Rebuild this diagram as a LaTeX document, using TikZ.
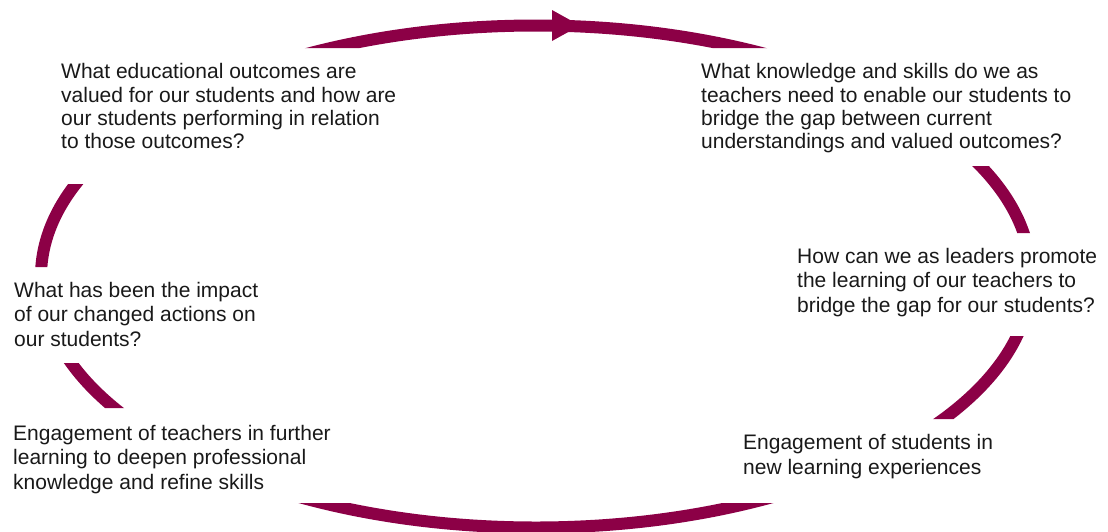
\documentclass[tikz,border=0pt]{standalone}
\usepackage{fontspec}
\setmainfont{Liberation Sans}
\definecolor{cyclered}{RGB}{140,0,70}
\begin{document}
\begin{tikzpicture}[x=1pt,y=-1pt,
  question/.style={anchor=north west, inner sep=0pt, align=left,
    font=\fontsize{21}{23.3}\selectfont, text=black!90},
  loose/.style={font=\fontsize{21}{24.3}\selectfont}]
\useasboundingbox (0,0) rectangle (1108,531);
% cycle ring, cut by the text areas
\begin{scope}[even odd rule]
  \clip (-20,-20) rectangle (1130,560)
    (20,48) rectangle (420,184)
    (690,48) rectangle (1100,166)
    (5,267) rectangle (300,363)
    (785,233) rectangle (1108,336)
    (5,408) rectangle (380,503)
    (720,419) rectangle (1050,503);
  \draw[cyclered, line width=12pt] (536,276.5) ellipse [x radius=495pt, y radius=251pt];
\end{scope}
\fill[cyclered] (552,10) -- (552,41) -- (580,25.5) -- cycle;
% texts
\node[question] (q1) at (61,63.5) {What educational outcomes are\\valued for our students and how are\\our students performing in relation\\to those outcomes?};
\node[question] (q2) at (701,63.5) {What knowledge and skills do we as\\teachers need to enable our students to\\bridge the gap between current\\understandings and valued outcomes?};
\node[question, loose] (q3) at (797,248) {How can we as leaders promote\\the learning of our teachers to\\bridge the gap for our students?};
\node[question, loose] (q4) at (743,434.5) {Engagement of students in\\new learning experiences};
\node[question, loose] (q5) at (13,425) {Engagement of teachers in further\\learning to deepen professional\\knowledge and refine skills};
\node[question, loose] (q6) at (14,282) {What has been the impact\\of our changed actions on\\our students?};
\end{tikzpicture}
\end{document}
